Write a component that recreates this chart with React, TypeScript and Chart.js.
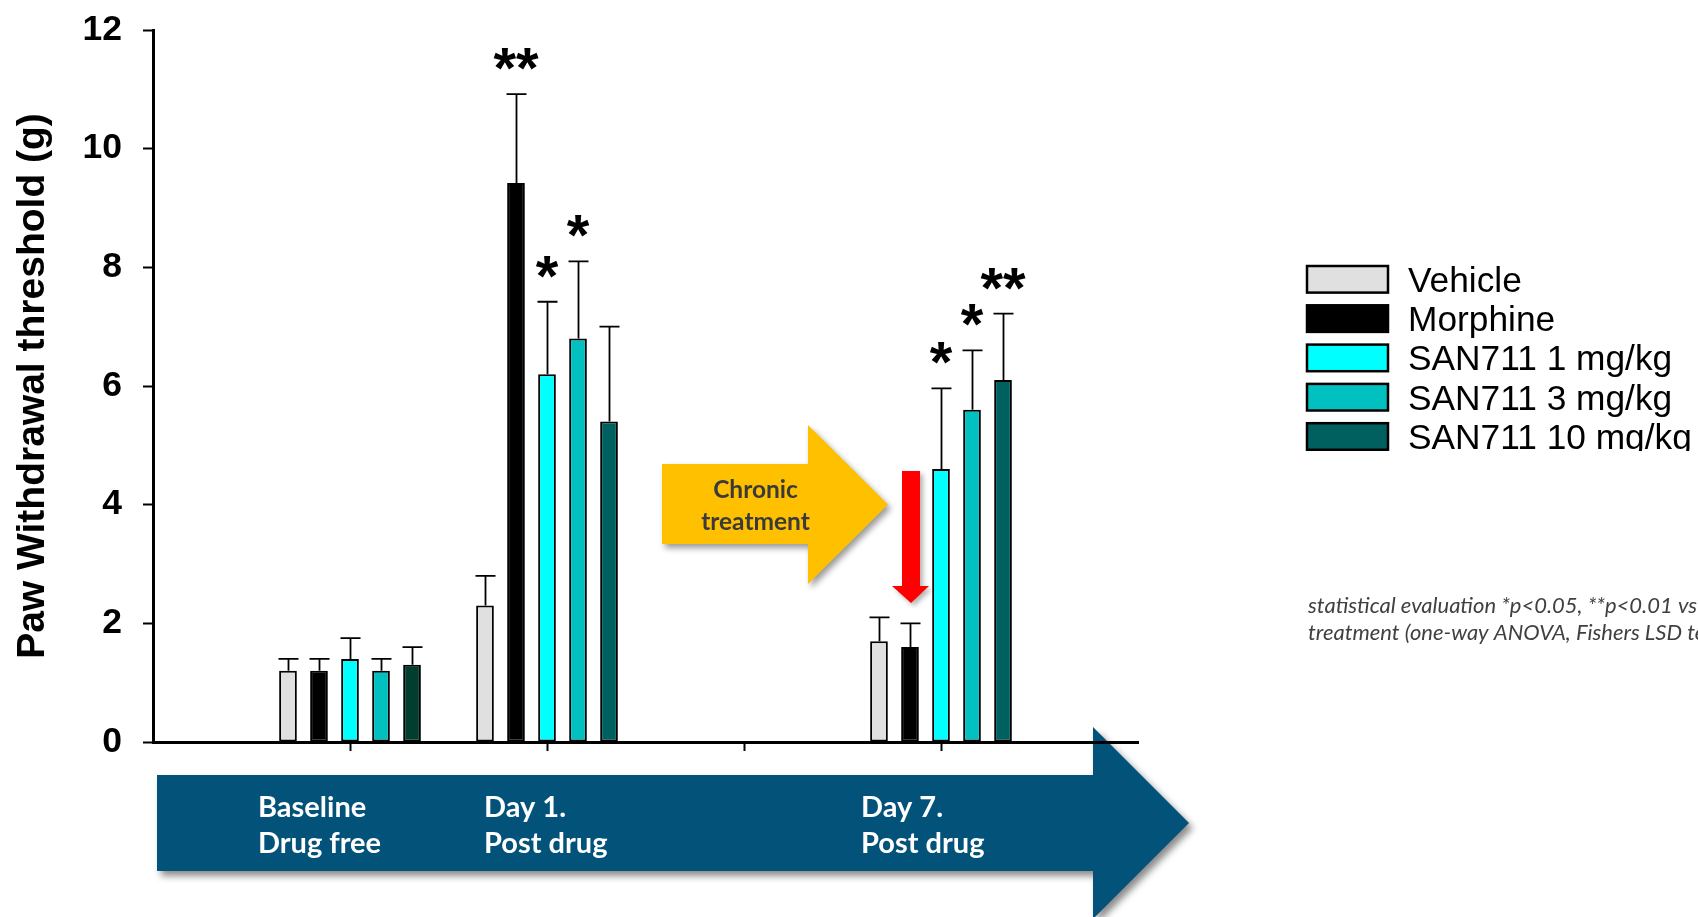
import React, { useEffect, useRef } from 'react';
import { Chart, registerables } from 'chart.js';

Chart.register(...registerables);

// ---- data ----
const categories = ['', 'Baseline', 'Day 1', '', 'Day 7', ''];
const seriesLabels = ['Vehicle', 'Morphine', 'SAN711 1 mg/kg', 'SAN711 3 mg/kg', 'SAN711 10 mg/kg'];

const vehicleMean = [null, 1.2, 2.3, 0, 1.7, null];
const vehicleSem = [null, 0.2, 0.5, 0, 0.4, null];
const morphineMean = [null, 1.2, 9.42, 0, 1.6, null];
const morphineSem = [null, 0.2, 1.5, 0, 0.4, null];
const san1Mean = [null, 1.4, 6.2, 0, 4.6, null];
const san1Sem = [null, 0.35, 1.22, 0, 1.36, null];
const san3Mean = [null, 1.2, 6.8, 0, 5.6, null];
const san3Sem = [null, 0.2, 1.3, 0, 1.0, null];
const san10Mean = [null, 1.3, 5.4, 0, 6.1, null];
const san10Sem = [null, 0.3, 1.6, 0, 1.12, null];

const vehicleStars = ['', '', '', '', '', ''];
const morphineStars = ['', '', '**', '', '', ''];
const san1Stars = ['', '', '*', '', '*', ''];
const san3Stars = ['', '', '*', '', '*', ''];
const san10Stars = ['', '', '', '', '**', ''];

const yTicks = [0, 2, 4, 6, 8, 10, 12];
const yTitle = 'Paw Withdrawal threshold (g)';
const phaseLabels = [
  ['Baseline', 'Drug free'],
  ['Day 1.', 'Post drug'],
  ['Day 7.', 'Post drug'],
];
const treatmentLabel = ['Chronic', 'treatment'];
const statsNote = [
  'statistical evaluation *p<0.05, **p<0.01 vs',
  'treatment (one-way ANOVA, Fishers LSD test)',
];

const semSets = [vehicleSem, morphineSem, san1Sem, san3Sem, san10Sem];
const starSets = [vehicleStars, morphineStars, san1Stars, san3Stars, san10Stars];

// ---- styles ----
const colVehicle = '#e0e0e0';
const colMorphine = '#000000';
const colSan1 = '#00ffff';
const colSan3 = '#00c0c0';
const colSan10 = '#006060';
const colSan10Base = '#003f2f';
const SANS = "'Liberation Sans', Arial, sans-serif";

const errorBarsPlugin = {
  id: 'errorBars',
  afterDatasetsDraw(chart: any) {
    const ctx = chart.ctx;
    const y = chart.scales.y;
    ctx.save();
    ctx.strokeStyle = '#000';
    ctx.lineWidth = 1.8;
    chart.data.datasets.forEach((ds: any, i: number) => {
      const meta = chart.getDatasetMeta(i);
      ds.data.forEach((v: any, j: number) => {
        const sem = semSets[i][j];
        if (v == null || !sem) return;
        const bar = meta.data[j];
        const x = Math.round(bar.x) + 0.5;
        const yTop = y.getPixelForValue(v + sem);
        ctx.beginPath();
        ctx.moveTo(x, bar.y);
        ctx.lineTo(x, yTop);
        ctx.moveTo(x - 10, yTop);
        ctx.lineTo(x + 10, yTop);
        ctx.stroke();
        const star = starSets[i][j];
        if (star) {
          ctx.font = `bold 58px ${SANS}`;
          ctx.fillStyle = '#000';
          ctx.textAlign = 'center';
          ctx.textBaseline = 'alphabetic';
          const m = ctx.measureText(star);
          const center = yTop - 35;
          const base = center + (m.actualBoundingBoxAscent - m.actualBoundingBoxDescent) / 2;
          ctx.fillText(star, bar.x, base);
        }
      });
    });
    ctx.restore();
  },
};

const decorPlugin = {
  id: 'decor',
  beforeDraw(chart: any) {
    const ctx = chart.ctx;
    // timeline arrow
    ctx.save();
    ctx.shadowColor = 'rgba(0,0,0,0.45)';
    ctx.shadowBlur = 7;
    ctx.shadowOffsetX = 4;
    ctx.shadowOffsetY = 5;
    ctx.fillStyle = '#03527a';
    ctx.beginPath();
    ctx.moveTo(157, 775);
    ctx.lineTo(1093, 775);
    ctx.lineTo(1093, 727);
    ctx.lineTo(1189, 823);
    ctx.lineTo(1093, 919);
    ctx.lineTo(1093, 871);
    ctx.lineTo(157, 871);
    ctx.closePath();
    ctx.fill();
    ctx.restore();

    ctx.save();
    ctx.fillStyle = '#ffffff';
    ctx.font = "bold 29px Lato, 'Open Sans', sans-serif";
    ctx.textAlign = 'left';
    ctx.textBaseline = 'alphabetic';
    const phaseX = [258, 484, 861];
    phaseLabels.forEach((lines, k) => {
      ctx.fillText(lines[0], phaseX[k], 817);
      ctx.fillText(lines[1], phaseX[k], 853);
    });
    ctx.restore();

    // chronic treatment arrow
    ctx.save();
    ctx.shadowColor = 'rgba(0,0,0,0.4)';
    ctx.shadowBlur = 6;
    ctx.shadowOffsetX = 3;
    ctx.shadowOffsetY = 4;
    ctx.fillStyle = '#ffc000';
    ctx.beginPath();
    ctx.moveTo(662, 464);
    ctx.lineTo(808, 464);
    ctx.lineTo(808, 425);
    ctx.lineTo(888, 504.5);
    ctx.lineTo(808, 584);
    ctx.lineTo(808, 544);
    ctx.lineTo(662, 544);
    ctx.closePath();
    ctx.fill();
    ctx.restore();

    ctx.save();
    ctx.fillStyle = '#3a3a3a';
    ctx.font = "bold 24.5px Lato, 'Open Sans', sans-serif";
    ctx.textAlign = 'center';
    ctx.textBaseline = 'alphabetic';
    ctx.fillText(treatmentLabel[0], 755.5, 498);
    ctx.fillText(treatmentLabel[1], 755.5, 530);
    ctx.restore();

    // red arrow
    ctx.save();
    ctx.shadowColor = 'rgba(0,0,0,0.3)';
    ctx.shadowBlur = 5;
    ctx.shadowOffsetX = 3;
    ctx.shadowOffsetY = 3;
    ctx.fillStyle = '#ff0000';
    ctx.beginPath();
    ctx.moveTo(902, 471);
    ctx.lineTo(920, 471);
    ctx.lineTo(920, 586);
    ctx.lineTo(929, 586);
    ctx.lineTo(911, 603);
    ctx.lineTo(892, 586);
    ctx.lineTo(902, 586);
    ctx.closePath();
    ctx.fill();
    ctx.restore();

    // stats note
    ctx.save();
    ctx.fillStyle = '#404040';
    ctx.font = "italic 22px Lato, 'Open Sans', sans-serif";
    ctx.textAlign = 'left';
    ctx.textBaseline = 'alphabetic';
    ctx.fillText(statsNote[0], 1308, 613);
    ctx.fillText(statsNote[1], 1308, 640);
    ctx.restore();

    // legend (cropped at bottom like the source)
    ctx.save();
    ctx.beginPath();
    ctx.rect(1290, 240, 420, 211);
    ctx.clip();
    chart.data.datasets.forEach((ds: any, i: number) => {
      const cy = 279.3 + i * 39.3;
      const fill = Array.isArray(ds.backgroundColor) ? ds.backgroundColor[2] : ds.backgroundColor;
      ctx.fillStyle = fill;
      ctx.fillRect(1307, cy - 13.3, 81, 26.6);
      ctx.strokeStyle = '#000';
      ctx.lineWidth = 2.5;
      ctx.strokeRect(1307, cy - 13.3, 81, 26.6);
      ctx.fillStyle = '#000';
      ctx.font = `35.3px ${SANS}`;
      ctx.textAlign = 'left';
      ctx.textBaseline = 'alphabetic';
      ctx.fillText(ds.label, 1408, cy + 12.4);
    });
    ctx.restore();
  },
};

export default function App() {
  const ref = useRef<HTMLCanvasElement>(null);

  useEffect(() => {
    const canvas = ref.current;
    if (!canvas) return;
    const mk = (label: string, data: any[], bg: any) => ({
      label,
      data,
      backgroundColor: bg,
      borderColor: '#000000',
      borderWidth: 2,
      borderSkipped: false,
      barPercentage: 0.571,
      categoryPercentage: 0.787,
    });
    const chart = new Chart(canvas, {
      type: 'bar',
      data: {
        labels: categories,
        datasets: [
          mk(seriesLabels[0], vehicleMean, colVehicle),
          mk(seriesLabels[1], morphineMean, colMorphine),
          mk(seriesLabels[2], san1Mean, colSan1),
          mk(seriesLabels[3], san3Mean, colSan3),
          mk(seriesLabels[4], san10Mean, [colSan10, colSan10Base, colSan10, colSan10, colSan10, colSan10]),
        ],
      },
      options: {
        responsive: false,
        devicePixelRatio: 1,
        animation: false,
        events: [],
        layout: { padding: { left: 0, top: 30, right: 560, bottom: 175 } },
        plugins: {
          legend: { display: false },
          tooltip: { enabled: false },
          title: { display: false },
        },
        scales: {
          x: {
            type: 'category',
            offset: false,
            grid: {
              offset: false,
              drawOnChartArea: false,
              drawTicks: true,
              tickLength: 9,
              tickWidth: 2,
              tickColor: (c: any) => (c.index === 0 || c.index === categories.length - 1 ? 'rgba(0,0,0,0)' : '#000'),
            },
            border: { display: true, color: '#000', width: 3 },
            ticks: { display: false },
            afterFit: (s: any) => {
              s.height = 0;
              s.paddingLeft = 0;
              s.paddingRight = 0;
            },
          },
          y: {
            min: 0,
            max: 12,
            afterBuildTicks: (s: any) => {
              s.ticks = yTicks.map((v) => ({ value: v }));
            },
            grid: {
              drawOnChartArea: false,
              drawTicks: true,
              tickLength: 10,
              tickWidth: 2,
              tickColor: '#000',
            },
            border: { display: true, color: '#000', width: 3 },
            ticks: {
              color: '#000',
              padding: 21,
              font: { family: SANS, weight: 'bold', size: 35.5 },
            },
            title: {
              display: true,
              text: yTitle,
              color: '#000',
              padding: { top: 10, bottom: 0 },
              font: { family: SANS, weight: 'bold', size: 39 },
            },
            afterFit: (s: any) => {
              s.width = 153;
              s.paddingTop = 0;
              s.paddingBottom = 0;
            },
          },
        },
      } as any,
      plugins: [decorPlugin, errorBarsPlugin],
    });
    return () => chart.destroy();
  }, []);

  return (
    <div style={{ position: 'fixed', left: 0, top: 0, width: 1698, height: 917, background: '#ffffff', overflow: 'hidden' }}>
      <canvas ref={ref} width={1698} height={917} style={{ display: 'block', width: 1698, height: 917 }} />
    </div>
  );
}
